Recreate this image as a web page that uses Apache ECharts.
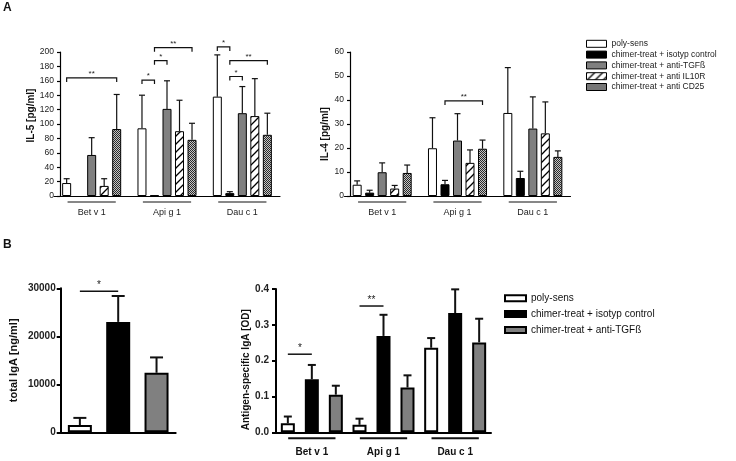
<!DOCTYPE html>
<html><head><meta charset="utf-8">
<script src="https://cdn.jsdelivr.net/npm/echarts@6/dist/echarts.min.js"></script>
<style>html,body{margin:0;padding:0;background:#fff}#c{width:736px;height:461px}</style>
</head><body><div id="c"></div>
<script>
// ---------- DATA ----------
const allergens = ['Bet v 1', 'Api g 1', 'Dau c 1'];
const groupsA = ['poly-sens', 'chimer-treat + isotyp control', 'chimer-treat + anti-TGFß', 'chimer-treat + anti IL10R', 'chimer-treat + anti CD25'];
const groupsB = ['poly-sens', 'chimer-treat + isotyp control', 'chimer-treat + anti-TGFß'];

// IL-5 [pg/ml] (per group, per allergen) and upper error
const il5PolySens   = [18, 94, 138];
const il5Isotyp     = [null, 1, 4];
const il5AntiTGF    = [57, 121, 115];
const il5AntiIL10R  = [14, 90, 111];
const il5AntiCD25   = [93, 78, 85];
const il5PolySensErr  = [6, 46, 58];
const il5IsotypErr    = [null, 0, 2];
const il5AntiTGFErr   = [24, 39, 37];
const il5AntiIL10RErr = [10, 43, 52];
const il5AntiCD25Err  = [48, 23, 30];

// IL-4 [pg/ml]
const il4PolySens   = [4.7, 19.9, 34.6];
const il4Isotyp     = [1.4, 4.9, 7.5];
const il4AntiTGF    = [9.9, 23.1, 28.1];
const il4AntiIL10R  = [3.1, 13.8, 26.1];
const il4AntiCD25   = [9.6, 19.7, 16.3];
const il4PolySensErr  = [1.6, 12.7, 18.9];
const il4IsotypErr    = [1.0, 1.6, 2.8];
const il4AntiTGFErr   = [3.9, 11.2, 13.2];
const il4AntiIL10RErr = [1.3, 5.4, 13.1];
const il4AntiCD25Err  = [3.3, 3.6, 2.5];

// total IgA [ng/ml] (per group)
const totalIgA    = [1500, 23000, 12400];
const totalIgAErr = [1500, 5400, 3200];

// antigen-specific IgA [OD] (per group, per allergen)
const igaPolySens  = [0.025, 0.021, 0.236];
const igaIsotyp    = [0.148, 0.269, 0.333];
const igaAntiTGF   = [0.105, 0.125, 0.251];
const igaPolySensErr = [0.019, 0.017, 0.027];
const igaIsotypErr   = [0.040, 0.059, 0.066];
const igaAntiTGFErr  = [0.025, 0.034, 0.066];

// significance: [allergen, fromGroup, toGroup, level, label]
const il5Sig = [[0,0,4,164,'**'],[1,0,1,161,'*'],[1,1,2,188,'*'],[1,1,4,206,'**'],[2,0,1,207,'*'],[2,1,2,166,'*'],[2,1,4,188,'**']];
const il4Sig = [[1,1,4,39.6,'**']];
// [fromGroup, toGroup, level, label]
const totalIgASig = [[0,1,29400,'*']];
// [allergen, fromGroup, toGroup, level, label]
const igaSig = [[0,0,1,0.218,'*'],[1,0,1,0.3525,'**']];

// ticks
const il5Axis = {min: 0, max: 200, interval: 20};
const il4Axis = {min: 0, max: 60, interval: 10};
const totalAxis = {min: 0, max: 30000, interval: 10000};
const igaAxis = {min: 0, max: 0.4, interval: 0.1};

// ---------- STYLE ----------
const FONT = '"Liberation Sans", Arial, sans-serif';
function makePattern(size, draw){const c=document.createElement('canvas');c.width=size;c.height=size;draw(c.getContext('2d'),size);return c;}
const hatchCanvas = makePattern(8,(ctx,s)=>{ctx.fillStyle='#fff';ctx.fillRect(0,0,s,s);ctx.strokeStyle='#000';ctx.lineWidth=1.3;ctx.beginPath();ctx.moveTo(-1,s+1);ctx.lineTo(s+1,-1);ctx.moveTo(-1,1);ctx.lineTo(1,-1);ctx.moveTo(s-1,s+1);ctx.lineTo(s+1,s-1);ctx.stroke();});
const dotsCanvas = makePattern(4,(ctx,s)=>{ctx.fillStyle='#c4c4c4';ctx.fillRect(0,0,s,s);ctx.fillStyle='#2a2a2a';for(let y=0;y<s;y++)for(let x=0;x<s;x++)if((x+y)%2===0)ctx.fillRect(x,y,1,1);});
const fills = ['#ffffff','#000000','#808080',{image:hatchCanvas.toDataURL(),repeat:'repeat'},{image:dotsCanvas.toDataURL(),repeat:'repeat'}];

const A = {w: 9, gapPct: 39, border: 1};
const B = {w: 14, gapPct: 71.4, border: 2};
const BL = {w: 24, border: 2};

function barCenter(api, cat, idx, n, w, gap){
  const c = api.coord([cat, 0])[0];
  const total = n*w + (n-1)*gap;
  return c - total/2 + w/2 + idx*(w+gap);
}
function errData(means, errs){
  const out=[];
  means.forEach((row,gi)=>row.forEach((v,ci)=>{const e=errs[gi][ci]; if(v!=null&&e!=null&&e>0) out.push([ci,gi,v,e]);}));
  return out;
}
function errSeries(xi, data, n, w, gap, capW, lw){
  return {type:'custom', xAxisIndex:xi, yAxisIndex:xi, clip:false, silent:true, z:5, encode:{x:0,y:2}, data,
    renderItem:(p,api)=>{
      const cat=api.value(0), idx=api.value(1), v=api.value(2), e=api.value(3);
      const x=barCenter(api,cat,idx,n,w,gap);
      const y0=api.coord([cat,v])[1], y1=api.coord([cat,v+e])[1];
      return {type:'group',children:[
        {type:'line',shape:{x1:x,y1:y0,x2:x,y2:y1},style:{stroke:'#111',lineWidth:lw}},
        {type:'line',shape:{x1:x-capW/2,y1:y1,x2:x+capW/2,y2:y1},style:{stroke:'#111',lineWidth:lw}}]};
    }};
}
// items: [catA, idxA, catB, idxB, level]
function sigSeries(xi, items, labels, n, w, gap, drop, lw, fs, lift){
  return {type:'custom', xAxisIndex:xi, yAxisIndex:xi, clip:false, silent:true, z:5, encode:{x:0,y:4}, data:items,
    renderItem:(p,api)=>{
      const x1=barCenter(api,api.value(0),api.value(1),n,w,gap);
      const x2=barCenter(api,api.value(2),api.value(3),n,w,gap);
      const y=api.coord([api.value(0),api.value(4)])[1];
      const ch=[{type:'polyline',shape:{points: drop>0?[[x1,y+drop],[x1,y],[x2,y],[x2,y+drop]]:[[x1,y],[x2,y]]},style:{stroke:'#111',lineWidth:lw,fill:null}},
        {type:'text',style:{text:labels[p.dataIndex],x:(x1+x2)/2,y:y-lift,align:'center',verticalAlign:'middle',fontSize:fs,fontFamily:FONT,fill:'#222'}}];
      return {type:'group',children:ch};
    }};
}
function underlineSeries(xi, frac, lw){
  return {type:'custom', xAxisIndex:xi, yAxisIndex:xi, clip:false, silent:true, encode:{x:0}, data:allergens.map((a,i)=>[i]),
    renderItem:(p,api)=>{
      const c=api.coord([api.value(0),0]); const h=api.size([1,0])[0]*frac;
      return {type:'line',shape:{x1:c[0]-h,y1:c[1]+6,x2:c[0]+h,y2:c[1]+6},style:{stroke:'#111',lineWidth:lw}};
    }};
}

const il5Means=[il5PolySens,il5Isotyp,il5AntiTGF,il5AntiIL10R,il5AntiCD25];
const il5Errs=[il5PolySensErr,il5IsotypErr,il5AntiTGFErr,il5AntiIL10RErr,il5AntiCD25Err];
const il4Means=[il4PolySens,il4Isotyp,il4AntiTGF,il4AntiIL10R,il4AntiCD25];
const il4Errs=[il4PolySensErr,il4IsotypErr,il4AntiTGFErr,il4AntiIL10RErr,il4AntiCD25Err];
const igaMeans=[igaPolySens,igaIsotyp,igaAntiTGF];
const igaErrs=[igaPolySensErr,igaIsotypErr,igaAntiTGFErr];

const gapA=A.w*A.gapPct/100, gapB=B.w*B.gapPct/100;

function barsFor(xi, means, names, cfg){
  return means.map((d,i)=>({type:'bar',name:names[i],xAxisIndex:xi,yAxisIndex:xi,data:d,barWidth:cfg.w,barGap:cfg.gapPct+'%',
    itemStyle:{color:fills[i],borderColor:'#000',borderWidth:cfg.border}}));
}

const series=[].concat(
  barsFor(0,il5Means,groupsA,A),
  barsFor(1,il4Means,groupsA,A),
  [{type:'bar',name:'total IgA',xAxisIndex:2,yAxisIndex:2,barWidth:BL.w,
    data:totalIgA.map((v,i)=>({value:v,itemStyle:{color:fills[i]}})),itemStyle:{borderColor:'#000',borderWidth:BL.border}}],
  barsFor(3,igaMeans,groupsB,B),
  [errSeries(0,errData(il5Means,il5Errs),5,A.w,gapA,6,1.2),
   errSeries(1,errData(il4Means,il4Errs),5,A.w,gapA,6,1.2),
   errSeries(2,totalIgA.map((v,i)=>[i,0,v,totalIgAErr[i]]),1,BL.w,0,13,2),
   errSeries(3,errData(igaMeans,igaErrs),3,B.w,gapB,8,2),
   sigSeries(0,il5Sig.map(s=>[s[0],s[1],s[0],s[2],s[3]]),il5Sig.map(s=>s[4]),5,A.w,gapA,4,1.2,8,4),
   sigSeries(1,il4Sig.map(s=>[s[0],s[1],s[0],s[2],s[3]]),il4Sig.map(s=>s[4]),5,A.w,gapA,4,1.2,8,4),
   sigSeries(2,totalIgASig.map(s=>[s[0],0,s[1],0,s[2]]),totalIgASig.map(s=>s[3]),1,BL.w,0,0,1.5,10,6),
   sigSeries(3,igaSig.map(s=>[s[0],s[1],s[0],s[2],s[3]]),igaSig.map(s=>s[4]),3,B.w,gapB,0,1.5,10,6),
   underlineSeries(0,0.32,1.2), underlineSeries(1,0.32,1.2), underlineSeries(3,0.33,2)]
);

function yAxisCfg(gi, ax, name, opts){
  return Object.assign({type:'value',gridIndex:gi,min:ax.min,max:ax.max,interval:ax.interval,name,nameLocation:'middle',
    splitLine:{show:false},axisLine:{show:true,lineStyle:{color:'#000',width:opts.lw}},
    axisTick:{show:true,length:opts.tick,lineStyle:{color:'#000',width:opts.lw}},
    axisLabel:{fontSize:opts.fs,fontWeight:opts.fw,color:'#222',margin:opts.margin,fontFamily:FONT,formatter:opts.fmt},
    nameGap:opts.gap,nameTextStyle:{fontSize:opts.nfs,fontWeight:'bold',color:'#111',fontFamily:FONT,padding:opts.pad}},opts.extra||{});
}

const option={
  animation:false,
  backgroundColor:'#fff',
  title:[{text:'A',left:3,top:2,padding:0,textStyle:{fontSize:12,fontWeight:'bold',color:'#111',fontFamily:FONT}},
         {text:'B',left:3,top:239,padding:0,textStyle:{fontSize:12,fontWeight:'bold',color:'#111',fontFamily:FONT}}],
  legend:[
    {left:586,top:39.3,padding:0,orient:'vertical',icon:'rect',itemWidth:20,itemHeight:7,itemGap:1.8,selectedMode:false,
     textStyle:{fontSize:8.5,lineHeight:8.5,color:'#222',fontFamily:FONT},
     data:groupsA.map((n,i)=>({name:n,itemStyle:{color:fills[i],borderColor:'#000',borderWidth:1}}))},
    {left:504,top:293.3,padding:0,orient:'vertical',icon:'rect',itemWidth:21,itemHeight:6,itemGap:5.8,selectedMode:false,
     textStyle:{fontSize:10,lineHeight:10,color:'#111',fontFamily:FONT},
     data:groupsB.map((n,i)=>({name:n,itemStyle:{color:fills[i],borderColor:'#000',borderWidth:2}}))}
  ],
  grid:[
    {left:54,top:52,width:226,height:144,containLabel:false,outerBoundsMode:'none'},
    {left:344.5,top:52,width:226,height:144,containLabel:false,outerBoundsMode:'none'},
    {left:60.7,top:288.3,width:115,height:144,containLabel:false,outerBoundsMode:'none'},
    {left:276,top:289,width:215,height:143.3,containLabel:false,outerBoundsMode:'none'}
  ],
  xAxis:[
    {type:'category',gridIndex:0,data:allergens,axisLine:{lineStyle:{color:'#000',width:1.2}},axisTick:{show:false},
     axisLabel:{fontSize:9,color:'#222',margin:12.5,fontFamily:FONT}},
    {type:'category',gridIndex:1,data:allergens,axisLine:{lineStyle:{color:'#000',width:1.2}},axisTick:{show:false},
     axisLabel:{fontSize:9,color:'#222',margin:12.5,fontFamily:FONT}},
    {type:'category',gridIndex:2,data:groupsB,axisLine:{lineStyle:{color:'#000',width:2}},axisTick:{show:false},axisLabel:{show:false}},
    {type:'category',gridIndex:3,data:allergens,axisLine:{lineStyle:{color:'#000',width:2}},axisTick:{show:false},
     axisLabel:{fontSize:10,fontWeight:'bold',color:'#111',margin:15,fontFamily:FONT}}
  ],
  yAxis:[
    yAxisCfg(0,il5Axis,'IL-5 [pg/ml]',{lw:1.2,tick:3,fs:8.5,fw:'normal',margin:6,gap:24,nfs:10,pad:[0,0,0,17],extra:{offset:-6}}),
    yAxisCfg(1,il4Axis,'IL-4 [pg/ml]',{lw:1.2,tick:3,fs:8.5,fw:'normal',margin:6,gap:17,nfs:10,pad:[0,20,0,0],extra:{offset:-5.5}}),
    yAxisCfg(2,totalAxis,'total IgA [ng/ml]',{lw:2,tick:4,fs:10,fw:'bold',margin:5,gap:41,nfs:11,pad:[0,0,0,0],fmt:v=>String(v)}),
    yAxisCfg(3,igaAxis,'Antigen-specific IgA [OD]',{lw:2,tick:4,fs:10,fw:'bold',margin:7,gap:24,nfs:10,pad:[0,18,0,0],fmt:v=>v.toFixed(1)})
  ],
  series
};
const chart=echarts.init(document.getElementById('c'),null,{renderer:'canvas'});
chart.setOption(option);
</script></body></html>
